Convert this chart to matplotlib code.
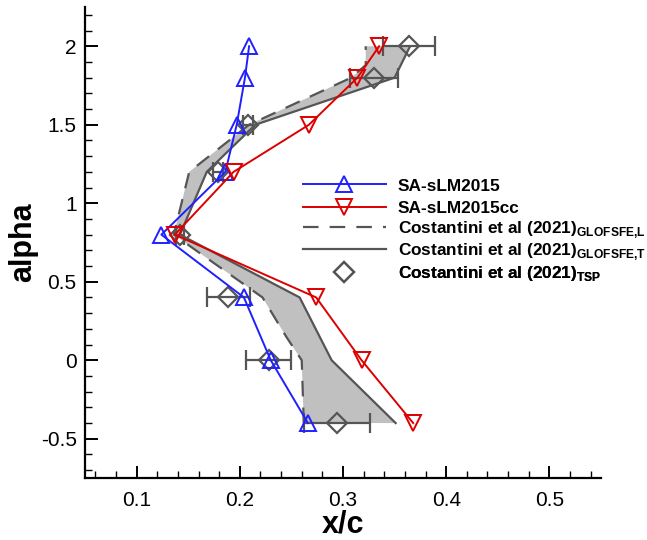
import matplotlib
matplotlib.use("Agg")
import matplotlib.pyplot as plt
from matplotlib.ticker import MultipleLocator, FuncFormatter

plt.rcParams['font.family'] = ['Liberation Sans', 'DejaVu Sans']
plt.rcParams['mathtext.fontset'] = 'custom'
plt.rcParams['mathtext.rm'] = 'Liberation Sans'
plt.rcParams['mathtext.bf'] = 'Liberation Sans:bold'

# SA-sLM2015 / SA-sLM2015cc
alpha_sim = [2.0, 1.8, 1.5, 1.2, 0.8, 0.4, 0.0, -0.4]
x_sa = [0.209, 0.205, 0.197, 0.186, 0.124, 0.204, 0.230, 0.266]
x_sacc = [0.335, 0.314, 0.267, 0.194, 0.137, 0.274, 0.318, 0.368]

# Costantini et al (2021) TSP with error bars
alpha_tsp = [2.0, 1.8, 1.5, 1.2, 0.8, 0.4, 0.0, -0.4]
x_tsp = [0.364, 0.330, 0.208, 0.179, 0.142, 0.189, 0.228, 0.294]
err_tsp = [0.025, 0.023, 0.005, 0.005, 0.004, 0.021, 0.022, 0.032]

# GLOFSFE bounds
alpha_l = [-0.4, 0.0, 0.15, 0.4, 0.8, 1.2, 1.5, 1.8, 1.88, 2.0]
x_l = [0.262, 0.260, 0.245, 0.222, 0.136, 0.151, 0.209, 0.308, 0.322, 0.322]
alpha_t = [-0.4, 0.0, 0.4, 0.8, 1.2, 1.5, 1.8, 2.0]
x_t = [0.351, 0.289, 0.258, 0.142, 0.168, 0.215, 0.350, 0.365]

blue = '#2020ff'
red = '#dd0000'
grey = '#555555'

fig = plt.figure(figsize=(6.47, 5.4), dpi=100)
ax = fig.add_axes([85 / 647, 62 / 540, 516 / 647, 471 / 540])

# shaded band between the two GLOFSFE lines
ax.fill(x_t + x_l[::-1], alpha_t + alpha_l[::-1], color='#c0c0c0', lw=0, zorder=1)
l_dash, = ax.plot(x_l, alpha_l, color=grey, lw=1.6, dashes=(7, 5), zorder=2)
l_solid, = ax.plot(x_t, alpha_t, color=grey, lw=1.6, zorder=2)

ax.errorbar(x_tsp, alpha_tsp, xerr=err_tsp, fmt='none', ecolor=grey,
            elinewidth=1.6, capsize=7, capthick=1.6, zorder=3)
l_tsp, = ax.plot(x_tsp, alpha_tsp, 'D', ms=10, mfc='none', mec=grey, mew=1.6, zorder=3)

l_sa, = ax.plot(x_sa, alpha_sim, color=blue, lw=1.4, marker='^', ms=11, mfc='none',
                mec=blue, mew=1.4, zorder=4)
l_sacc, = ax.plot(x_sacc, alpha_sim, color=red, lw=1.4, marker='v', ms=11, mfc='none',
                  mec=red, mew=1.4, zorder=4)

ax.set_xlim(0.05, 0.55)
ax.set_ylim(-0.75, 2.25)
ax.xaxis.set_major_locator(MultipleLocator(0.1))
ax.xaxis.set_minor_locator(MultipleLocator(0.02))
ax.yaxis.set_major_locator(MultipleLocator(0.5))
ax.yaxis.set_minor_locator(MultipleLocator(0.1))
fmt = FuncFormatter(lambda v, p: ('%g' % round(v, 3)))
ax.xaxis.set_major_formatter(fmt)
ax.yaxis.set_major_formatter(fmt)

for s in ['top', 'right']:
    ax.spines[s].set_visible(False)
for s in ['left', 'bottom']:
    ax.spines[s].set_linewidth(1.6)
ax.tick_params(which='major', direction='in', length=9, width=1.4, labelsize=15)
ax.tick_params(which='minor', direction='in', length=5, width=1.0)
ax.tick_params(axis='x', which='major', pad=9)
ax.tick_params(axis='y', which='major', pad=6)

ax.set_xlabel('x/c', fontsize=22, fontweight='bold', labelpad=0)
ax.set_ylabel('alpha', fontsize=22, fontweight='bold', labelpad=2)

# one legend per row so the rows stay evenly spaced
entries = [
    (l_sa, 'SA-sLM2015'),
    (l_sacc, 'SA-sLM2015cc'),
    (l_dash, r'Costantini et al (2021)$_{\mathbf{GLOFSFE{,}L}}$'),
    (l_solid, r'Costantini et al (2021)$_{\mathbf{GLOFSFE{,}T}}$'),
    (l_tsp, r'Costantini et al (2021)$_{\mathbf{TSP}}$'),
]
row_y = [0.620, 0.573, 0.5265, 0.480, 0.435]
for (h, lab), yy in zip(entries, row_y):
    leg = ax.legend([h], [lab], loc='center left', bbox_to_anchor=(0.4225, yy),
                    frameon=False, borderpad=0, borderaxespad=0, handlelength=4.8,
                    handletextpad=0.7, prop={'weight': 'bold', 'size': 12.4})
    ax.add_artist(leg)

fig.savefig('out.png', dpi=100)
